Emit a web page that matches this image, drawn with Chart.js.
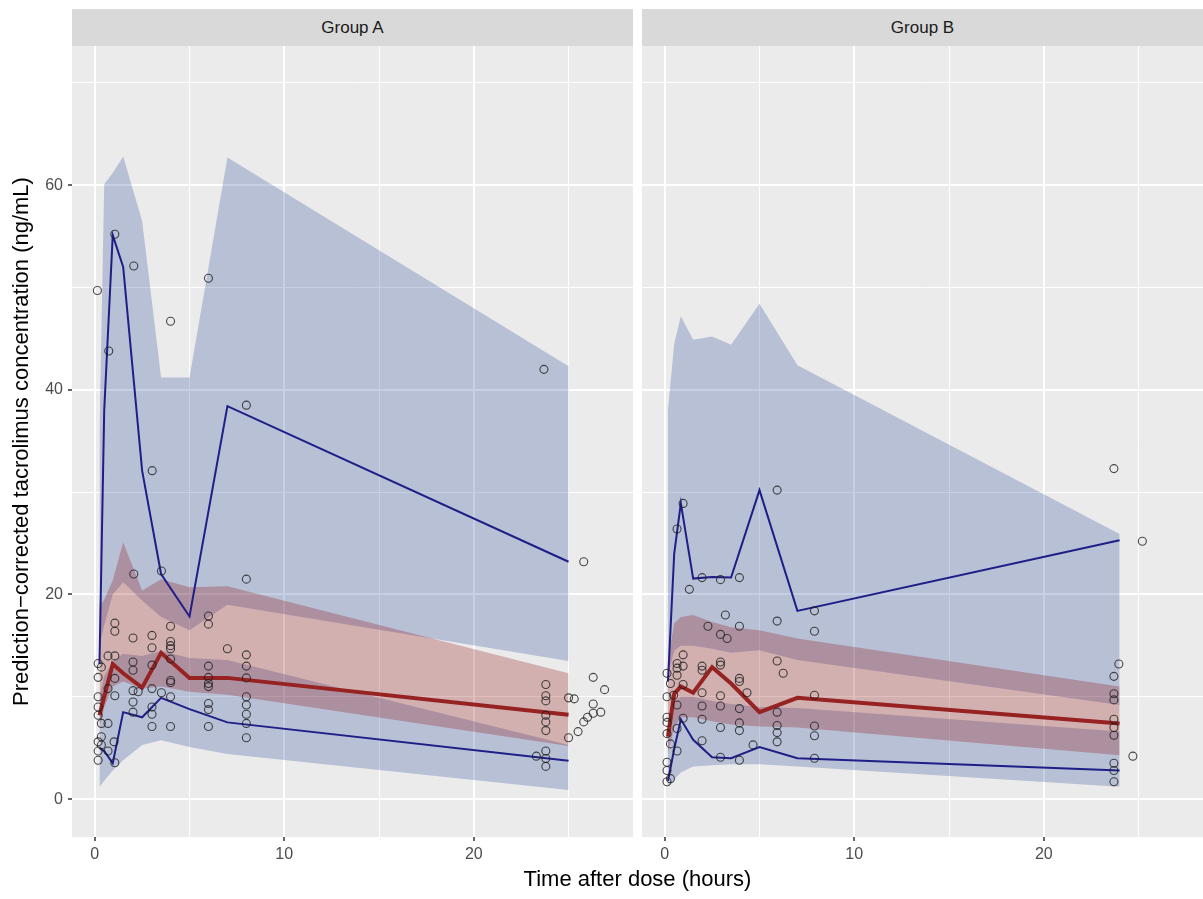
<!DOCTYPE html>
<html>
<head>
<meta charset="utf-8">
<script src="https://cdn.jsdelivr.net/npm/chart.js@4"></script>
<style>
  body { margin: 0; background: #ffffff; width: 1203px; height: 899px; overflow: hidden; position: relative; font-family: "Liberation Sans", Arial, sans-serif; }
  .strip { position: absolute; top: 9px; height: 37px; width: 561px; background: #D9D9D9; color: #1A1A1A; font-size: 17px; line-height: 37px; text-align: center; }
  .panel { position: absolute; top: 46px; }
  #xtitle { position: absolute; left: 72px; width: 1131px; top: 866px; text-align: center; font-size: 22px; color: #000; }
</style>
</head>
<body>
<div class="strip" style="left:72px">Group A</div>
<div class="strip" style="left:642px">Group B</div>
<div class="panel" style="left:0px"><canvas id="chartA" width="633" height="853"></canvas></div>
<div class="panel" style="left:642px"><canvas id="chartB" width="561" height="853"></canvas></div>
<div id="xtitle">Time after dose (hours)</div>
<script>
// ---- Group A: binned VPC summaries ----
const binsA = [0.25, 0.5, 0.95, 1.5, 2.5, 3.5, 5, 7, 25];
const obs5A = [5.0, 4.7, 3.5, 8.5, 8.0, 9.9, 8.8, 7.5, 3.75];
const obs50A = [8.2, 10.0, 13.2, 12.3, 10.9, 14.3, 11.85, 11.85, 8.25];
const obs95A = [13.2, 38.0, 55.1, 52.0, 32.1, 22.0, 17.85, 38.4, 23.2];
const pi5LoA = [1.2, 1.8, 2.8, 3.8, 5.3, 5.75, 5.1, 4.4, 0.9];
const pi5HiA = [10.0, 12.0, 13.5, 14.2, 14.0, 14.5, 13.8, 13.6, 5.3];
const medLoA = [7.0, 9.0, 11.0, 11.5, 10.8, 11.0, 10.5, 10.2, 5.2];
const medHiA = [18.8, 19.5, 21.4, 25.1, 20.4, 21.5, 20.7, 20.8, 12.3];
const pi95LoA = [15.0, 17.0, 20.0, 21.2, 19.4, 17.8, 16.5, 19.0, 13.5];
const pi95HiA = [36.0, 60.1, 61.2, 62.8, 56.5, 41.2, 41.2, 62.7, 42.3];

// ---- Group B: binned VPC summaries ----
const binsB = [0.17, 0.5, 0.85, 1.5, 2.5, 3.5, 5, 7, 24];
const obs5B = [1.8, 4.9, 7.8, 5.8, 4.1, 4.0, 5.1, 4.0, 2.8];
const obs50B = [6.1, 10.3, 11.0, 10.4, 12.9, 11.3, 8.5, 9.9, 7.4];
const obs95B = [11.5, 24.0, 28.9, 21.55, 21.7, 21.65, 30.2, 18.4, 25.3];
const pi5LoB = [1.2, 1.9, 2.6, 3.2, 3.3, 3.4, 3.4, 3.2, 1.2];
const pi5HiB = [7.0, 9.5, 10.0, 10.0, 9.6, 9.3, 9.0, 8.9, 6.6];
const medLoB = [4.5, 7.0, 8.0, 8.0, 7.6, 7.3, 7.1, 7.0, 4.3];
const medHiB = [13.5, 17.2, 17.8, 18.0, 17.3, 16.8, 16.5, 15.7, 11.0];
const pi95LoB = [12.0, 14.5, 15.0, 15.0, 14.7, 14.3, 14.55, 13.6, 9.2];
const pi95HiB = [38.0, 44.5, 47.2, 44.9, 45.2, 44.4, 48.4, 42.4, 25.9];

// ---- observed concentrations ----
const obsTimeA = [0.14, 1.06, 2.06, 0.74, 4.0, 6.0, 8.0, 3.03, 2.06, 3.52, 8.0,
  25.8, 23.7,
  23.8, 23.8, 23.8, 23.8, 23.8, 23.8, 23.8, 23.8, 23.8, 23.3,
  25.0, 25.3, 26.3, 26.9, 26.3, 26.7, 26.3, 26.0, 25.8, 25.5, 25.0,
  1.06, 1.06, 2.02, 3.02, 4.0, 6.0, 6.0, 3.02, 4.0, 4.0, 4.0, 7.0, 8.0, 8.0, 6.0,
  0.18, 0.7, 1.06, 0.35, 0.18, 2.02, 2.02, 3.02, 4.0, 4.0, 4.0, 6.0, 6.0, 6.0,
  8.0, 8.0, 8.0, 8.0, 8.0, 8.0, 6.0, 6.0, 6.0, 4.0, 4.0, 3.02, 3.02, 3.02, 3.02,
  3.52, 2.02, 2.02, 2.02, 2.29, 1.06, 1.06, 0.7, 0.18, 0.18, 0.18, 0.7, 0.35,
  0.35, 0.18, 0.35, 0.18, 0.7, 0.18, 1.06, 1.02];
const obsConcA = [49.7, 55.2, 52.1, 43.8, 46.7, 50.9, 38.5, 32.1, 22.0, 22.3, 21.5,
  23.2, 42.0,
  11.2, 10.1, 9.6, 8.2, 7.55, 6.7, 4.7, 3.97, 3.2, 4.2,
  9.9, 9.8, 11.9, 10.7, 9.3, 8.5, 8.4, 8.0, 7.55, 6.6, 6.0,
  17.2, 16.4, 15.75, 16.0, 16.9, 17.9, 17.1, 14.8, 15.4, 15.0, 14.7, 14.7, 14.1, 13.0, 13.0,
  13.25, 14.0, 14.0, 12.9, 11.9, 13.4, 12.6, 13.1, 13.7, 11.6, 11.4, 11.9, 11.3, 11.0,
  11.85, 10.0, 9.2, 8.3, 7.4, 6.0, 9.35, 8.75, 7.1, 10.0, 7.1, 10.8, 9.0, 8.3, 7.1,
  10.4, 10.6, 9.5, 8.5, 10.5, 11.8, 10.1, 10.8, 10.0, 9.0, 8.2, 7.4, 7.4,
  6.1, 5.6, 5.3, 4.7, 4.7, 3.8, 3.55, 5.6];

const obsTimeB = [0.97, 0.65, 5.93, 23.7, 25.2,
  1.97, 2.94, 3.94, 1.3, 7.9, 7.9, 5.93, 3.2, 3.94, 2.28, 2.94, 3.29,
  0.97, 0.65, 0.65, 0.97, 1.97, 1.97, 2.94, 2.94, 5.93, 6.25, 3.94, 3.94, 4.34,
  2.94, 1.97, 1.97, 1.97, 1.97, 2.94, 2.94, 3.94, 3.94, 3.94, 3.94, 2.94, 4.66,
  5.93, 5.93, 5.93, 5.93, 7.9, 7.9, 7.9, 7.9, 0.97, 0.97, 0.65, 0.65, 0.65, 0.65,
  0.12, 0.3, 0.12, 0.47, 0.12, 0.12, 0.12, 0.3, 0.12, 0.12, 0.12, 0.3,
  23.96, 23.7, 23.7, 23.7, 23.7, 23.7, 23.7, 23.7, 23.7, 23.7, 24.7];
const obsConcB = [28.9, 26.4, 30.2, 32.3, 25.2,
  21.65, 21.45, 21.65, 20.5, 18.4, 16.4, 17.4, 18.0, 16.9, 16.9, 16.1, 15.7,
  14.1, 13.25, 12.8, 13.0, 13.0, 12.6, 13.4, 13.1, 13.5, 12.3, 11.8, 11.5, 10.4,
  10.1, 10.4, 9.1, 7.8, 5.7, 9.1, 7.0, 8.85, 7.45, 6.7, 3.8, 4.1, 5.3,
  8.5, 7.2, 6.5, 5.6, 10.15, 7.15, 6.2, 4.0, 11.2, 7.9, 12.1, 9.2, 4.7, 6.9,
  12.3, 11.3, 10.0, 10.15, 8.0, 7.5, 6.4, 5.4, 3.6, 2.8, 1.7, 2.0,
  13.2, 12.0, 10.3, 9.7, 7.8, 7.0, 6.25, 3.5, 2.8, 1.7, 4.2];

const X_MIN = -1.2, X_MAX = 28.4;
const Y_MIN = -3.7, Y_MAX = 73.6;

const BLUE_FILL = "rgba(31, 63, 151, 0.25)";
const RED_FILL = "rgba(139, 0, 0, 0.25)";
const BLUE_LINE = "#1E1E86";
const RED_LINE = "#962222";

Chart.defaults.font.family = '"Liberation Sans", Arial, sans-serif';

function pts(xs, ys) {
  return xs.map((x, i) => ({ x, y: ys[i] }));
}

// upper edge fills down to the dataset right after it
function band(xs, lo, hi, color, order) {
  return [
    { type: "line", data: pts(xs, hi), borderWidth: 0, pointRadius: 0, backgroundColor: color, fill: "+1", order },
    { type: "line", data: pts(xs, lo), borderWidth: 0, pointRadius: 0, fill: false, order },
  ];
}

function line(xs, ys, color, width, order) {
  return { type: "line", data: pts(xs, ys), borderColor: color, borderWidth: width, pointRadius: 0, fill: false, tension: 0, order };
}

const panelBg = {
  id: "panelBg",
  beforeDraw(chart) {
    const { ctx, chartArea: a } = chart;
    ctx.save();
    ctx.fillStyle = "#EBEBEB";
    ctx.fillRect(a.left, a.top, a.right - a.left, a.bottom - a.top);
    ctx.restore();
  },
};

const isMajor = (c, step) => c.tick && Math.abs(c.tick.value % step) < 1e-9;

// keep the panel flush with its container: no label overhang padding
function fixBox(s, size) {
  if (s.isHorizontal()) s.height = size; else s.width = size;
  s.paddingTop = 0;
  s.paddingBottom = 0;
  s.paddingLeft = 0;
  s.paddingRight = 0;
}

function makeChart(id, d, withYAxis) {
  const datasets = [
    ...band(d.bins, d.pi95Lo, d.pi95Hi, BLUE_FILL, 6),
    ...band(d.bins, d.pi5Lo, d.pi5Hi, BLUE_FILL, 6),
    ...band(d.bins, d.medLo, d.medHi, RED_FILL, 5),
    line(d.bins, d.obs5, BLUE_LINE, 2, 3),
    line(d.bins, d.obs95, BLUE_LINE, 2, 3),
    line(d.bins, d.obs50, RED_LINE, 4, 2),
    {
      type: "scatter",
      data: pts(d.time, d.conc),
      pointStyle: "circle",
      pointRadius: 4,
      borderWidth: 1.1,
      borderColor: "rgba(30, 30, 30, 0.8)",
      backgroundColor: "rgba(0, 0, 0, 0)",
      order: 1,
    },
  ];

  return new Chart(document.getElementById(id), {
    type: "line",
    data: { datasets },
    plugins: [panelBg],
    options: {
      responsive: false,
      devicePixelRatio: 1,
      animation: false,
      events: [],
      layout: { padding: 0, autoPadding: false },
      plugins: { legend: { display: false }, tooltip: { enabled: false } },
      scales: {
        x: {
          type: "linear",
          min: X_MIN,
          max: X_MAX,
          afterFit: (s) => fixBox(s, 62),
          border: { display: false },
          grid: {
            color: "#FFFFFF",
            lineWidth: (c) => (isMajor(c, 10) ? 2 : 1),
            tickLength: 4,
            tickColor: (c) => (isMajor(c, 10) ? "#333333" : "rgba(0,0,0,0)"),
            tickWidth: 1.5,
          },
          ticks: {
            stepSize: 5,
            includeBounds: false,
            autoSkip: false,
            maxRotation: 0,
            padding: 4,
            color: "#4D4D4D",
            font: { size: 16 },
            callback: (v) => (v % 10 === 0 ? v : ""),
          },
        },
        y: {
          type: "linear",
          min: Y_MIN,
          max: Y_MAX,
          afterFit: (s) => fixBox(s, withYAxis ? 72 : 0),
          border: { display: false },
          grid: {
            color: "#FFFFFF",
            lineWidth: (c) => (isMajor(c, 20) ? 2 : 1),
            drawTicks: withYAxis,
            tickLength: 4,
            tickColor: (c) => (isMajor(c, 20) ? "#333333" : "rgba(0,0,0,0)"),
            tickWidth: 1.5,
          },
          ticks: {
            display: withYAxis,
            stepSize: 10,
            includeBounds: false,
            padding: 5,
            color: "#4D4D4D",
            font: { size: 16 },
            callback: (v) => (v % 20 === 0 ? v : ""),
          },
          title: {
            display: withYAxis,
            text: "Prediction\u2212corrected tacrolimus concentration (ng/mL)",
            color: "#000000",
            font: { size: 22 },
            padding: { top: 9, bottom: 0 },
          },
        },
      },
    },
  });
}

makeChart("chartA", {
  bins: binsA, obs5: obs5A, obs50: obs50A, obs95: obs95A,
  pi5Lo: pi5LoA, pi5Hi: pi5HiA, medLo: medLoA, medHi: medHiA,
  pi95Lo: pi95LoA, pi95Hi: pi95HiA, time: obsTimeA, conc: obsConcA,
}, true);

makeChart("chartB", {
  bins: binsB, obs5: obs5B, obs50: obs50B, obs95: obs95B,
  pi5Lo: pi5LoB, pi5Hi: pi5HiB, medLo: medLoB, medHi: medHiB,
  pi95Lo: pi95LoB, pi95Hi: pi95HiB, time: obsTimeB, conc: obsConcB,
}, false);
</script>
</body>
</html>
